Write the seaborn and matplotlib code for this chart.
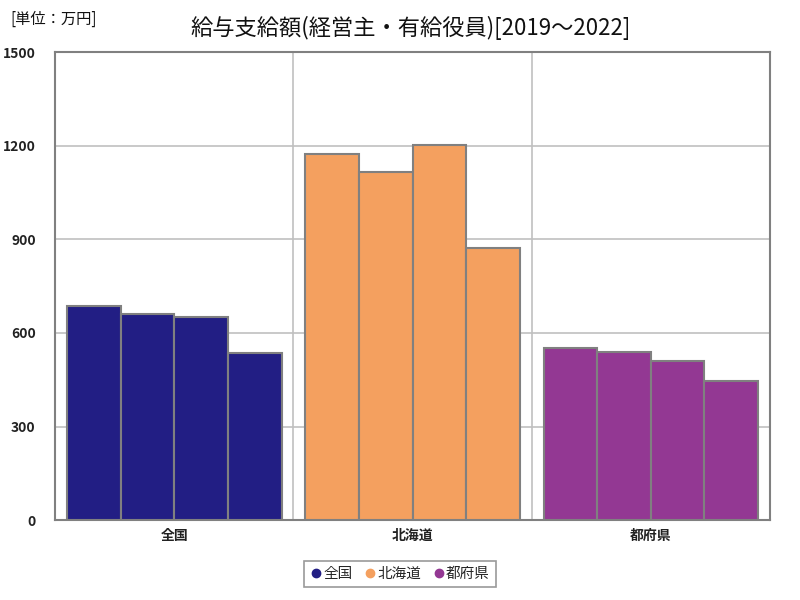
import matplotlib
matplotlib.use("Agg")
import matplotlib.pyplot as plt
from matplotlib.lines import Line2D
import seaborn as sns
import pandas as pd

regions = ["全国", "北海道", "都府県"]
years = ["2019", "2020", "2021", "2022"]
zenkoku = [686, 660, 651, 535]
hokkaido = [1173, 1115, 1203, 871]
tofuken = [552, 539, 510, 445]
colors = ["#221E84", "#F4A05F", "#933893"]

rows = []
for r, vals in zip(regions, [zenkoku, hokkaido, tofuken]):
    for y, v in zip(years, vals):
        rows.append({"region": r, "year": y, "value": v})
df = pd.DataFrame(rows)

sns.set_theme(style="white")
plt.rcParams['font.family'] = ['Noto Sans CJK JP', 'DejaVu Sans']

fig = plt.figure(figsize=(8, 6), dpi=100)
ax = fig.add_axes([0.069, 0.133, 0.8935, 0.78])

sns.barplot(data=df, x="region", y="value", hue="year", order=regions,
            hue_order=years, width=0.9, edgecolor="#808080", linewidth=1.5,
            legend=False, ax=ax, errorbar=None, saturation=1)
for cont in ax.containers:
    for i, bar in enumerate(cont):
        bar.set_facecolor(colors[i])
        bar.set_zorder(3)

ax.set_xlim(-0.5, 2.5)
ax.set_ylim(0, 1500)
ax.set_yticks([0, 300, 600, 900, 1200, 1500])
ax.set_xticks([0, 1, 2])
ax.set_xticklabels(regions, fontsize=10, fontweight="bold", color="#222222")
ax.set_xticks([0.5, 1.5], minor=True)
ax.tick_params(axis="y", labelsize=10, colors="#222222", length=0, pad=14)
ax.tick_params(axis="x", which="both", length=0, pad=6)
for lab in ax.get_yticklabels():
    lab.set_fontweight("bold")
ax.grid(axis="y", which="major", color="#c0c0c0", linewidth=1.2, zorder=0)
ax.grid(axis="x", which="minor", color="#c0c0c0", linewidth=1.2, zorder=0)
ax.set_axisbelow(True)
ax.set_xlabel("")
ax.set_ylabel("")
for s in ax.spines.values():
    s.set_color("#808080")
    s.set_linewidth(1.5)

fig.text(0.513, 0.953, "給与支給額(経営主・有給役員)[2019～2022]", ha="center", va="center",
         fontsize=16, color="#111111")
fig.text(0.013, 0.968, "[単位：万円]", ha="left", va="center", fontsize=11, color="#111111")

handles = [Line2D([0], [0], marker="o", linestyle="", markersize=6,
                  markerfacecolor=c, markeredgecolor=c, label=r)
           for r, c in zip(regions, colors)]
leg = fig.legend(handles=handles, loc="center", bbox_to_anchor=(0.5, 0.043), ncol=3,
                 frameon=True, fancybox=False, fontsize=10.5, handletextpad=0.1,
                 columnspacing=0.8, handlelength=0.8, borderpad=0.4)
leg.get_frame().set_edgecolor("#808080")
leg.get_frame().set_linewidth(1.2)

fig.savefig("out.png", dpi=100)
